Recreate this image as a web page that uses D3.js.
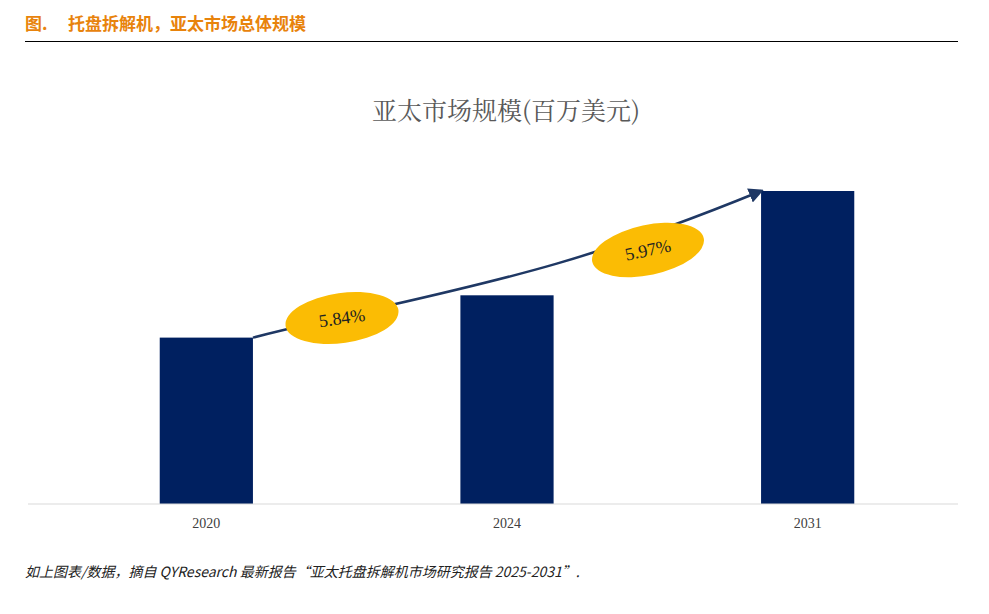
<!DOCTYPE html>
<html><head><meta charset="utf-8">
<script src="https://cdn.jsdelivr.net/npm/d3@7"></script>
<style>body{margin:0;background:#fff}</style></head>
<body><svg id="c" width="989" height="614"></svg>
<script>
const categories = ["2020","2024","2031"];
const values = [164, 205.7, 308.5];
const cagrLabels = ["5.84%","5.97%"];

const svg = d3.select("#c");
svg.append("text").attr("x",25).attr("y",30).attr("fill","#e8830c").attr("font-weight","bold")
  .attr("font-size",17).attr("font-family","Noto Sans CJK SC").text("图.");
svg.append("text").attr("x",68).attr("y",30).attr("fill","#e8830c").attr("font-weight","bold")
  .attr("font-size",17).attr("font-family","Noto Sans CJK SC").text("托盘拆解机，亚太市场总体规模");
svg.append("line").attr("x1",25).attr("x2",958).attr("y1",41.5).attr("y2",41.5).attr("stroke","#000").attr("stroke-width",1);

svg.append("text").attr("x",506).attr("y",120).attr("text-anchor","middle").attr("fill","#595959")
  .attr("font-size",25).attr("font-family","Noto Serif CJK SC, Liberation Serif, serif").text("亚太市场规模(百万美元)");

const x = d3.scaleBand().domain(categories).range([56,958]).paddingInner(0.69).paddingOuter(0.345);
const y = d3.scaleLinear().domain([0,308.5]).range([504,191]);

svg.selectAll("rect.b").data(categories).enter().append("rect")
  .attr("x",d=>x(d)).attr("width",x.bandwidth()).attr("y",(d,i)=>y(values[i]))
  .attr("height",(d,i)=>504-y(values[i])).attr("fill","#002060");

const ax = svg.append("g").attr("transform","translate(0,504)").call(d3.axisBottom(x).tickSize(0).tickPadding(14));
ax.select(".domain").attr("stroke","#d9d9d9").attr("d","M28,0H958");
ax.selectAll("text").attr("font-family","Liberation Serif, serif").attr("font-size",14).attr("fill","#404040");

const defs = svg.append("defs");
defs.append("marker").attr("id","ah").attr("viewBox","0 0 10 10").attr("refX",8).attr("refY",5)
  .attr("markerWidth",6).attr("markerHeight",6).attr("orient","auto")
  .append("path").attr("d","M0,0L10,5L0,10z").attr("fill","#1f3864");
const x0 = x(categories[0])+x.bandwidth(), y0=y(values[0]);
const x1 = x(categories[2]), y1=y(values[2]);
svg.append("path").attr("d",`M${x0},${y0} C${x0+200},${y0-50} ${x1-220},${y1+90} ${x1},${y1}`)
  .attr("fill","none").attr("stroke","#1f3864").attr("stroke-width",2.5).attr("marker-end","url(#ah)");

const ell = [[342,318,-8],[648,250,-12]];
ell.forEach((e,i)=>{
  const g=svg.append("g").attr("transform",`translate(${e[0]},${e[1]}) rotate(${e[2]})`);
  g.append("ellipse").attr("rx",57).attr("ry",25).attr("fill","#fbbc04");
  g.append("text").attr("text-anchor","middle").attr("dy",6).attr("font-family","Liberation Serif, serif")
   .attr("font-size",18).attr("fill","#222").text(cagrLabels[i]);
});

svg.append("text").attr("x",25).attr("y",577).attr("font-size",14).attr("font-style","italic")
  .attr("font-family","Noto Sans CJK SC").attr("fill","#222")
  .text("如上图表/数据，摘自 QYResearch 最新报告“亚太托盘拆解机市场研究报告 2025-2031”.");
</script></body></html>
